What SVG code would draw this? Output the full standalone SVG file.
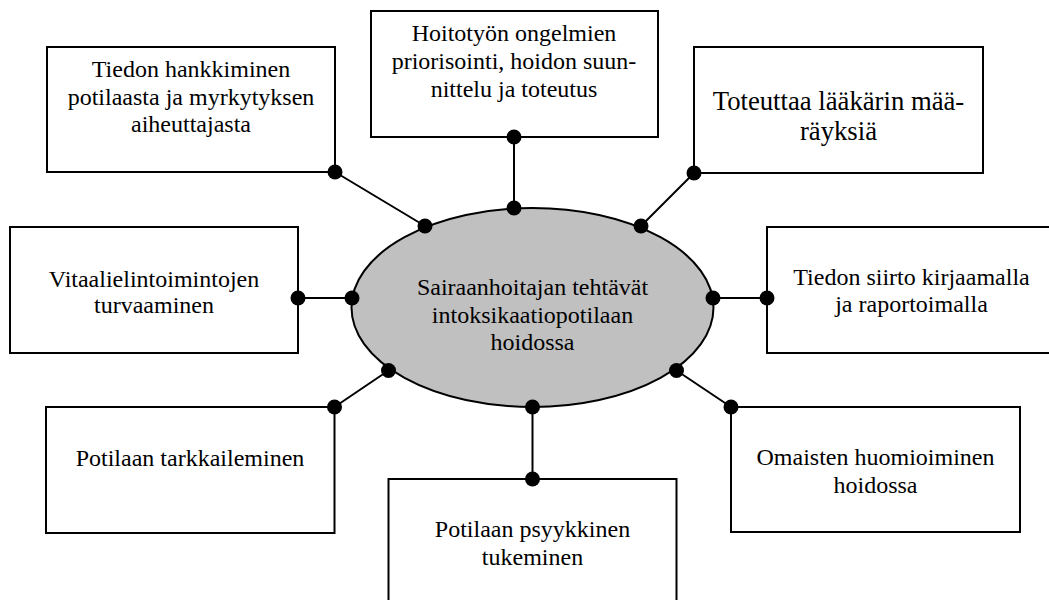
<svg xmlns="http://www.w3.org/2000/svg" width="1049" height="600" viewBox="0 0 1049 600">
  <style>
    .box { fill: #ffffff; stroke: #000000; stroke-width: 2; }
    .hub { fill: #c0c0c0; stroke: #000000; stroke-width: 2; }
    .lbl { font-family: "Liberation Serif", "Times New Roman", serif; font-size: 24px; fill: #000000; text-anchor: middle; }
    .big { font-size: 26.7px; }
    .link { stroke: #000000; stroke-width: 2; fill: none; }
    .dot { fill: #000000; }
  </style>
  <rect width="1049" height="600" fill="#ffffff"/>

  <g id="node-tiedon-hankkiminen">
    <rect class="box" x="47" y="47" width="288" height="125"/>
    <text class="lbl" x="191" y="77">Tiedon hankkiminen</text>
    <text class="lbl" x="191" y="104.5">potilaasta ja myrkytyksen</text>
    <text class="lbl" x="191" y="132">aiheuttajasta</text>
  </g>

  <g id="node-hoitotyon-ongelmien">
    <rect class="box" x="371" y="11" width="287" height="126"/>
    <text class="lbl" x="514" y="41">Hoitotyön ongelmien</text>
    <text class="lbl" x="514" y="69">priorisointi, hoidon suun-</text>
    <text class="lbl" x="514" y="97">nittelu ja toteutus</text>
  </g>

  <g id="node-toteuttaa">
    <rect class="box" x="694" y="47" width="289" height="126"/>
    <text class="lbl big" x="838.5" y="110">Toteuttaa lääkärin mää-</text>
    <text class="lbl big" x="838.5" y="140">räyksiä</text>
  </g>

  <g id="node-vitaalielintoimintojen">
    <rect class="box" x="10" y="227" width="288" height="126"/>
    <text class="lbl" x="154" y="286.5">Vitaalielintoimintojen</text>
    <text class="lbl" x="154" y="313">turvaaminen</text>
  </g>

  <g id="node-tiedon-siirto">
    <rect class="box" x="767" y="227" width="290" height="126"/>
    <text class="lbl" x="911.5" y="285">Tiedon siirto kirjaamalla</text>
    <text class="lbl" x="911.5" y="311.5">ja raportoimalla</text>
  </g>

  <g id="node-potilaan-tarkkaileminen">
    <rect class="box" x="46" y="407" width="288.5" height="126"/>
    <text class="lbl" x="190" y="466">Potilaan tarkkaileminen</text>
  </g>

  <g id="node-psyykkinen-tukeminen">
    <rect class="box" x="388.5" y="479" width="288" height="130"/>
    <text class="lbl" x="532.5" y="537">Potilaan psyykkinen</text>
    <text class="lbl" x="532.5" y="565">tukeminen</text>
  </g>

  <g id="node-omaisten-huomioiminen">
    <rect class="box" x="731" y="407" width="289" height="125"/>
    <text class="lbl" x="875.5" y="465">Omaisten huomioiminen</text>
    <text class="lbl" x="875.5" y="493">hoidossa</text>
  </g>

  <g id="connectors">
    <line class="link" x1="335" y1="172" x2="425" y2="226"/>
    <line class="link" x1="514" y1="137" x2="514" y2="208"/>
    <line class="link" x1="694" y1="173" x2="641" y2="226"/>
    <line class="link" x1="298" y1="298" x2="352" y2="298"/>
    <line class="link" x1="713" y1="298" x2="767" y2="298"/>
    <line class="link" x1="334.5" y1="407" x2="388.5" y2="370.5"/>
    <line class="link" x1="532.5" y1="407" x2="532.5" y2="479"/>
    <line class="link" x1="676.5" y1="370.5" x2="731" y2="407"/>
  </g>

  <g id="node-sairaanhoitajan-tehtavat">
    <ellipse class="hub" cx="532.5" cy="307.5" rx="181" ry="99.5"/>
    <text class="lbl" x="532.5" y="295">Sairaanhoitajan tehtävät</text>
    <text class="lbl" x="532.5" y="323">intoksikaatiopotilaan</text>
    <text class="lbl" x="532.5" y="350">hoidossa</text>
  </g>

  <g id="connector-dots">
    <circle class="dot" cx="335" cy="172" r="7.5"/>
    <circle class="dot" cx="425" cy="226" r="7.5"/>
    <circle class="dot" cx="514" cy="137" r="7.5"/>
    <circle class="dot" cx="514" cy="208" r="7.5"/>
    <circle class="dot" cx="694" cy="173" r="7.5"/>
    <circle class="dot" cx="641" cy="226" r="7.5"/>
    <circle class="dot" cx="298" cy="298" r="7.5"/>
    <circle class="dot" cx="352" cy="298" r="7.5"/>
    <circle class="dot" cx="713" cy="298" r="7.5"/>
    <circle class="dot" cx="767" cy="298" r="7.5"/>
    <circle class="dot" cx="334.5" cy="407" r="7.5"/>
    <circle class="dot" cx="388.5" cy="370.5" r="7.5"/>
    <circle class="dot" cx="532.5" cy="407" r="7.5"/>
    <circle class="dot" cx="532.5" cy="479" r="7.5"/>
    <circle class="dot" cx="676.5" cy="370.5" r="7.5"/>
    <circle class="dot" cx="731" cy="407" r="7.5"/>
  </g>
</svg>
